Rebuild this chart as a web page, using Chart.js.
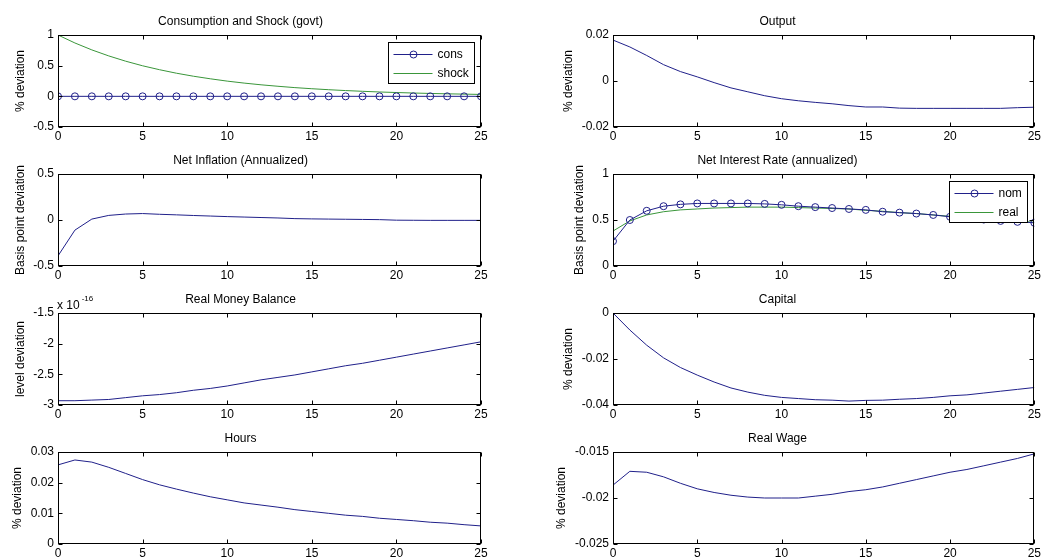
<!DOCTYPE html>
<html>
<head>
<meta charset="utf-8">
<script src="https://cdn.jsdelivr.net/npm/chart.js@4.4.1/dist/chart.umd.min.js"></script>
<style>
  html, body { margin: 0; padding: 0; background: #fff; overflow: hidden; }
  #fig { position: relative; width: 1043px; height: 558px; }
  #fig canvas { position: absolute; }
</style>
</head>
<body>
<div id="fig"></div>
<script>
// impulse responses, periods 0..25
const periods = [0, 1, 2, 3, 4, 5, 6, 7, 8, 9, 10, 11, 12, 13, 14, 15, 16, 17, 18, 19, 20, 21, 22, 23, 24, 25];

const consDev = [0, 0, 0, 0, 0, 0, 0, 0, 0, 0, 0, 0, 0, 0, 0, 0, 0, 0, 0, 0, 0, 0, 0, 0, 0, 0];
const govShock = [1, 0.87, 0.757, 0.659, 0.573, 0.498, 0.434, 0.377, 0.328, 0.286, 0.248, 0.216, 0.188,
  0.164, 0.142, 0.124, 0.108, 0.094, 0.082, 0.071, 0.062, 0.054, 0.047, 0.041, 0.036, 0.031];

const outputDev = [0.0178, 0.0148, 0.0111, 0.0071, 0.0041, 0.0018, -0.0007, -0.003, -0.0047, -0.0064,
  -0.0077, -0.0086, -0.0093, -0.0099, -0.0107, -0.0113, -0.0113, -0.0118, -0.0119, -0.0119, -0.0119,
  -0.0119, -0.0119, -0.0119, -0.0116, -0.0114];

const inflationDev = [-0.39, -0.11, 0.01, 0.05, 0.065, 0.07, 0.062, 0.056, 0.049, 0.043, 0.037, 0.032,
  0.027, 0.022, 0.015, 0.012, 0.01, 0.008, 0.006, 0.004, -0.002, -0.003, -0.004, -0.004, -0.004, -0.004];

const nomRate = [0.27, 0.5, 0.6, 0.65, 0.67, 0.68, 0.68, 0.68, 0.68, 0.675, 0.665, 0.65, 0.64, 0.63,
  0.62, 0.61, 0.59, 0.58, 0.57, 0.555, 0.535, 0.52, 0.505, 0.49, 0.48, 0.47];
const realRate = [0.38, 0.49, 0.555, 0.59, 0.61, 0.62, 0.63, 0.635, 0.64, 0.64, 0.64, 0.635, 0.63, 0.625,
  0.62, 0.605, 0.595, 0.58, 0.57, 0.555, 0.54, 0.53, 0.515, 0.5, 0.49, 0.475];

// in units of 1e-16
const moneyBalance = [-2.93, -2.93, -2.92, -2.91, -2.88, -2.85, -2.83, -2.8, -2.76, -2.73, -2.69, -2.64,
  -2.59, -2.55, -2.51, -2.46, -2.41, -2.36, -2.32, -2.27, -2.22, -2.17, -2.12, -2.07, -2.02, -1.97];

const capitalDev = [0, -0.0074, -0.014, -0.0195, -0.0237, -0.027, -0.03, -0.0326, -0.0344, -0.0358,
  -0.0367, -0.0372, -0.0377, -0.0379, -0.0383, -0.038, -0.0379, -0.0375, -0.0372, -0.0367, -0.036,
  -0.0356, -0.0348, -0.034, -0.0332, -0.0324];

const hoursDev = [0.0258, 0.0274, 0.0267, 0.025, 0.023, 0.021, 0.0193, 0.0179, 0.0166, 0.0154, 0.0144,
  0.0134, 0.0127, 0.012, 0.0112, 0.0106, 0.01, 0.0094, 0.009, 0.0084, 0.008, 0.0076, 0.0071, 0.0068,
  0.0063, 0.0059];

const realWageDev = [-0.0186, -0.0171, -0.0172, -0.0177, -0.0184, -0.019, -0.0194, -0.0197, -0.0199,
  -0.02, -0.02, -0.02, -0.0198, -0.0196, -0.0193, -0.0191, -0.0188, -0.0184, -0.018, -0.0176, -0.0172,
  -0.0169, -0.0165, -0.0161, -0.0157, -0.0152];

const BLUE = '#20208a';
const GREEN = '#3a963a';
const FONT = '"Liberation Sans", Arial, Helvetica, sans-serif';

const fmt = v => String(Math.round(v * 1e6) / 1e6);

// box, inward ticks, ylabel, legend, exponent - matlab look
const matlabAxes = {
  id: 'matlabAxes',
  afterDraw(chart, args, opts) {
    const { ctx, chartArea: a, scales: { x, y } } = chart;
    const L = Math.floor(a.left) + 0.5, R = Math.floor(a.right) - 0.5;
    const T = Math.floor(a.top) + 0.5, B = Math.floor(a.bottom) - 0.5;
    ctx.save();
    ctx.strokeStyle = '#000';
    ctx.lineWidth = 1;

    if (opts.legend) {
      const sets = chart.data.datasets;
      ctx.font = '12px ' + FONT;
      const tw = Math.max(...sets.map(d => ctx.measureText(d.label).width));
      const w = Math.round(49 + tw + 6), h = 41;
      const bx = R - 6 - w, by = T + 7;
      ctx.fillStyle = '#fff';
      ctx.fillRect(bx, by, w, h);
      ctx.strokeRect(bx, by, w, h);
      sets.forEach((d, i) => {
        const yy = Math.round(by + 11 + i * 19) + 0.5;
        ctx.strokeStyle = d.borderColor;
        ctx.beginPath();
        ctx.moveTo(bx + 5, yy);
        ctx.lineTo(bx + 44, yy);
        ctx.stroke();
        if (d.pointRadius > 0) {
          ctx.beginPath();
          ctx.arc(bx + 25, yy, d.pointRadius, 0, Math.PI * 2);
          ctx.stroke();
        }
        ctx.fillStyle = '#000';
        ctx.textAlign = 'left';
        ctx.textBaseline = 'middle';
        ctx.fillText(d.label, bx + 49, yy);
      });
      ctx.strokeStyle = '#000';
    }

    ctx.strokeRect(L, T, R - L, B - T);
    ctx.beginPath();
    x.ticks.forEach(t => {
      const px = Math.round(x.getPixelForValue(t.value)) + 0.5;
      ctx.moveTo(px, B); ctx.lineTo(px, B - 4);
      ctx.moveTo(px, T); ctx.lineTo(px, T + 4);
    });
    y.ticks.forEach(t => {
      const py = Math.round(y.getPixelForValue(t.value)) + 0.5;
      ctx.moveTo(L, py); ctx.lineTo(L + 4, py);
      ctx.moveTo(R, py); ctx.lineTo(R - 4, py);
    });
    ctx.stroke();

    ctx.fillStyle = '#000';
    ctx.font = '12px ' + FONT;
    const lw = Math.max(...y.ticks.map(t => ctx.measureText(t.label).width));
    ctx.save();
    ctx.translate(a.left - 4 - lw - 13, (a.top + a.bottom) / 2);
    ctx.rotate(-Math.PI / 2);
    ctx.textAlign = 'center';
    ctx.textBaseline = 'middle';
    ctx.fillText(opts.ylabel, 0, 0);
    ctx.restore();

    if (opts.exponent) {
      ctx.textAlign = 'left';
      ctx.textBaseline = 'alphabetic';
      ctx.fillText('x 10', a.left - 1, a.top - 4);
      const ew = ctx.measureText('x 10').width;
      ctx.font = '8px ' + FONT;
      ctx.fillText(opts.exponent, a.left + ew + 1, a.top - 12);
    }
    ctx.restore();
  }
};

const panels = [
  { col: 0, row: 0, title: 'Consumption and Shock (govt)', ylabel: '% deviation', min: -0.5, max: 1, step: 0.5, legend: true,
    series: [{ label: 'cons', data: consDev, color: BLUE, marker: true }, { label: 'shock', data: govShock, color: GREEN }] },
  { col: 1, row: 0, title: 'Output', ylabel: '% deviation', min: -0.02, max: 0.02, step: 0.02,
    series: [{ label: 'output', data: outputDev, color: BLUE }] },
  { col: 0, row: 1, title: 'Net Inflation (Annualized)', ylabel: 'Basis point deviation', min: -0.5, max: 0.5, step: 0.5,
    series: [{ label: 'inflation', data: inflationDev, color: BLUE }] },
  { col: 1, row: 1, title: 'Net Interest Rate (annualized)', ylabel: 'Basis point deviation', min: 0, max: 1, step: 0.5, legend: true,
    series: [{ label: 'nom', data: nomRate, color: BLUE, marker: true }, { label: 'real', data: realRate, color: GREEN }] },
  { col: 0, row: 2, title: 'Real Money Balance', ylabel: 'level deviation', min: -3, max: -1.5, step: 0.5, exponent: '-16',
    series: [{ label: 'money', data: moneyBalance, color: BLUE }] },
  { col: 1, row: 2, title: 'Capital', ylabel: '% deviation', min: -0.04, max: 0, step: 0.02,
    series: [{ label: 'capital', data: capitalDev, color: BLUE }] },
  { col: 0, row: 3, title: 'Hours', ylabel: '% deviation', min: 0, max: 0.03, step: 0.01,
    series: [{ label: 'hours', data: hoursDev, color: BLUE }] },
  { col: 1, row: 3, title: 'Real Wage', ylabel: '% deviation', min: -0.025, max: -0.015, step: 0.005,
    series: [{ label: 'wage', data: realWageDev, color: BLUE }] }
];

const rowTops = [35, 174, 313, 452];
const colSpec = [
  { left: 0, width: 500, yWidth: 58, padRight: 19 },
  { left: 520, width: 523, yWidth: 93, padRight: 8 }
];

const fig = document.getElementById('fig');

panels.forEach(p => {
  const c = colSpec[p.col];
  const canvas = document.createElement('canvas');
  canvas.width = c.width;
  canvas.height = 139;
  canvas.style.left = c.left + 'px';
  canvas.style.top = (rowTops[p.row] - 28) + 'px';
  fig.appendChild(canvas);

  new Chart(canvas.getContext('2d'), {
    type: 'line',
    data: {
      datasets: p.series.map(s => ({
        label: s.label,
        data: periods.map((t, i) => ({ x: t, y: s.data[i] })),
        borderColor: s.color,
        borderWidth: 1,
        backgroundColor: 'transparent',
        pointRadius: s.marker ? 3.5 : 0,
        pointBorderColor: s.color,
        pointBorderWidth: 1,
        pointBackgroundColor: 'transparent',
        tension: 0,
        fill: false
      }))
    },
    options: {
      responsive: false,
      animation: false,
      events: [],
      layout: { padding: { left: 0, right: c.padRight, top: 0, bottom: 0 } },
      plugins: {
        legend: { display: false },
        tooltip: { enabled: false },
        title: {
          display: true,
          text: p.title,
          color: '#000',
          font: { family: FONT, size: 12, weight: 'normal' },
          padding: { top: 7.5, bottom: 6.1 }
        },
        matlabAxes: { ylabel: p.ylabel, legend: !!p.legend, exponent: p.exponent }
      },
      scales: {
        x: {
          type: 'linear',
          min: 0,
          max: 25,
          grid: { display: false, drawTicks: false },
          border: { display: false },
          ticks: { stepSize: 5, padding: 2, color: '#000', maxRotation: 0, autoSkip: false,
                   font: { family: FONT, size: 12 } },
          afterFit(s) { s.height = 19; }
        },
        y: {
          min: p.min,
          max: p.max,
          grid: { display: false, drawTicks: false },
          border: { display: false },
          ticks: { stepSize: p.step, padding: 4, color: '#000', autoSkip: false,
                   font: { family: FONT, size: 12 }, callback: fmt },
          afterFit(s) { s.width = c.yWidth; }
        }
      }
    },
    plugins: [matlabAxes]
  });
});
</script>
</body>
</html>
